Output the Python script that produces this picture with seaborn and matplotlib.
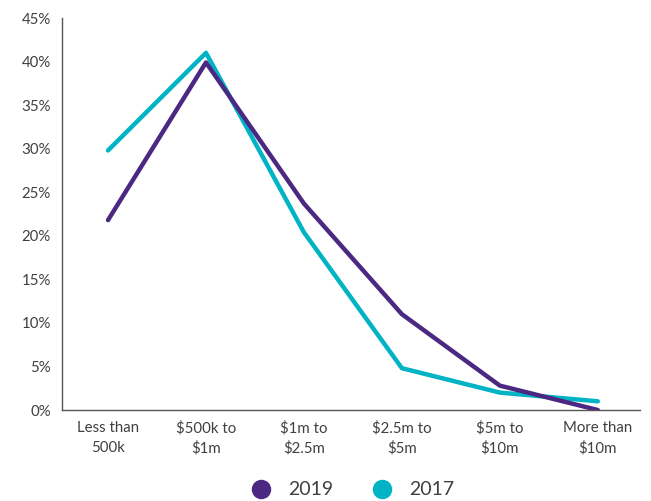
import matplotlib
matplotlib.use("Agg")
import matplotlib.pyplot as plt
from matplotlib.lines import Line2D
import seaborn as sns
import pandas as pd

categories = ["Less than\n500k", "$500k to\n$1m", "$1m to\n$2.5m",
              "$2.5m to\n$5m", "$5m to\n$10m", "More than\n$10m"]
values_2019 = [21.8, 39.9, 23.7, 11.0, 2.8, 0.0]
values_2017 = [29.8, 41.0, 20.4, 4.8, 2.0, 1.0]
years = ["2019", "2017"]
colors = {"2019": "#4B2882", "2017": "#00B4C5"}
y_ticks = [0, 5, 10, 15, 20, 25, 30, 35, 40, 45]

df = pd.concat([
    pd.DataFrame({"band": categories, "share": values_2017, "year": "2017"}),
    pd.DataFrame({"band": categories, "share": values_2019, "year": "2019"}),
])
df["pos"] = df["band"].map({c: i for i, c in enumerate(categories)})

sns.set_theme(style="white")
plt.rcParams["font.family"] = ["Lato", "DejaVu Sans"]
text_color = "#404040"

fig = plt.figure(figsize=(6.51, 5.01), dpi=100)
ax = fig.add_axes([0.0952, 0.1816, 0.8878, 0.7824])

sns.lineplot(data=df, x="pos", y="share", hue="year", hue_order=["2017", "2019"],
             palette=colors, linewidth=3.2, legend=False, ax=ax,
             solid_capstyle="round", solid_joinstyle="round")

ax.set_xlim(-0.47, 5.43)
ax.set_ylim(0, 45)
ax.set_xticks(range(len(categories)))
ax.set_xticklabels(categories, fontsize=10.8, color=text_color, linespacing=1.5)
ax.set_yticks(y_ticks)
ax.set_yticklabels([f"{t}%" for t in y_ticks], fontsize=10.8, color=text_color)
ax.tick_params(axis="both", length=0, pad=8)
ax.set_xlabel("")
ax.set_ylabel("")

for side in ["top", "right"]:
    ax.spines[side].set_visible(False)
for side in ["left", "bottom"]:
    ax.spines[side].set_color("#555555")
    ax.spines[side].set_linewidth(1.0)

handles = [Line2D([0], [0], marker="o", linestyle="", markersize=13,
                  markerfacecolor=colors[y], markeredgecolor=colors[y]) for y in years]
fig.legend(handles, years, loc="center", bbox_to_anchor=(0.535, 0.022), ncol=2,
           frameon=False, fontsize=14, handletextpad=0.4, columnspacing=1.5,
           labelcolor=text_color)

fig.savefig("out.png", dpi=100)
